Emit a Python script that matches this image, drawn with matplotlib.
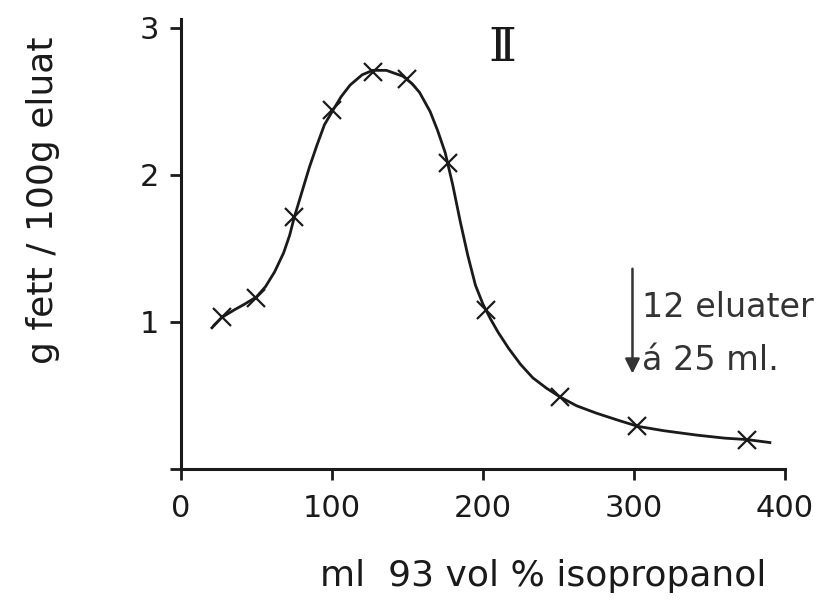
import numpy as np
import matplotlib.pyplot as plt

# measured points (crosses)
ml = [27, 50, 75, 100, 127, 150, 177, 202, 251, 302, 375]
fett = [1.03, 1.16, 1.71, 2.44, 2.70, 2.65, 2.08, 1.08, 0.49, 0.29, 0.20]

# hand drawn curve
curve_x = [20.5, 27, 35, 42, 50, 56, 62, 68, 72, 75, 80, 85, 90, 95, 100.7,
           106, 112, 120, 127, 136, 147, 153, 158, 165, 170, 175, 180, 185,
           190, 195, 200, 205, 210, 217, 225, 233, 242, 251, 262, 275, 290,
           302.6, 320, 342, 360, 375, 390]
curve_y = [0.96, 1.03, 1.08, 1.12, 1.17, 1.24, 1.34, 1.47, 1.59, 1.71, 1.88,
           2.05, 2.20, 2.34, 2.44, 2.53, 2.61, 2.68, 2.71, 2.71, 2.67, 2.62,
           2.56, 2.43, 2.30, 2.15, 1.93, 1.68, 1.45, 1.25, 1.12, 1.02, 0.93,
           0.82, 0.71, 0.62, 0.55, 0.49, 0.43, 0.38, 0.33, 0.29, 0.26, 0.23,
           0.21, 0.20, 0.18]

xticks = [0, 100, 200, 300, 400]
yticks = [1, 2, 3]

fig = plt.figure(figsize=(8.29, 6.01), dpi=100)
ax = fig.add_axes([0.2183, 0.2196, 0.7286, 0.749])

ax.plot(curve_x, curve_y, color='#1a1a1a', lw=2.0, solid_joinstyle='round')
ax.plot(ml, fett, ls='none', marker='x', ms=13, mew=1.6, color='#1a1a1a')

ax.set_xlim(0, 400)
ax.set_ylim(0, 3.06)
ax.spines['top'].set_visible(False)
ax.spines['right'].set_visible(False)
for s in ['left', 'bottom']:
    ax.spines[s].set_linewidth(2.2)
    ax.spines[s].set_color('#1a1a1a')

ax.set_xticks(xticks)
ax.set_xticklabels([str(t) for t in xticks], fontsize=22)
ax.set_yticks([0] + yticks)
ax.set_yticklabels([''] + [str(t) for t in yticks], fontsize=22)
ax.tick_params(axis='both', direction='out', length=8, width=2, color='#1a1a1a', labelcolor='#1a1a1a')
ax.tick_params(axis='x', pad=10)
ax.tick_params(axis='y', pad=8)

ax.set_xlabel('ml  93 vol % isopropanol', fontsize=26, color='#1a1a1a')
ax.xaxis.set_label_coords(0.6, -0.2)
ax.set_ylabel('g fett / 100g eluat', fontsize=26, color='#1a1a1a')
ax.yaxis.set_label_coords(-0.2, 0.598)

ax.text(212.6, 2.86, '\u2161', family='DejaVu Serif', fontsize=34, ha='center', va='center', color='#1a1a1a')

ax.annotate('', xy=(299, 0.63), xytext=(299, 1.38),
            arrowprops=dict(arrowstyle='-|>', color='#333333', lw=1.8, mutation_scale=22))
ax.text(305, 1.10, '12 eluater', fontsize=24, ha='left', va='center', color='#333333')
ax.text(305, 0.74, '\u00e1 25 ml.', fontsize=24, ha='left', va='center', color='#333333')

fig.savefig('out.png', dpi=100)
